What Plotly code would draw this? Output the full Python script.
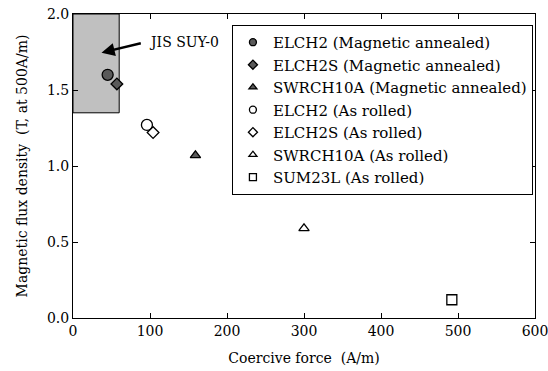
import plotly.graph_objects as go

names = ["ELCH2 (Magnetic annealed)", "ELCH2S (Magnetic annealed)", "SWRCH10A (Magnetic annealed)",
         "ELCH2 (As rolled)", "ELCH2S (As rolled)", "SWRCH10A (As rolled)", "SUM23L (As rolled)"]
coercive = [45, 57, 159, 96, 104, 300, 492]
flux = [1.60, 1.54, 1.07, 1.27, 1.22, 0.59, 0.12]
symbols = ["circle", "diamond", "triangle-up", "circle-open", "diamond-open", "triangle-up-open", "square-open"]
fills = ["#5a5a5a", "#5a5a5a", "#5a5a5a", "white", "white", "white", "white"]
sizes = [11, 9, 9, 11, 9, 9, 10]

jis_x = [0, 60]
jis_y = [1.35, 2.0]

FONT = "DejaVu Serif"
fig = go.Figure()

for n, x, y, s, f, sz in zip(names, coercive, flux, symbols, fills, sizes):
    sym = s.replace("-open", "")
    fig.add_trace(go.Scatter(x=[x], y=[y], mode="markers", showlegend=False,
                             marker=dict(symbol=sym, size=sz, color=f, line=dict(color="black", width=1.3))))
for n, s, f in zip(names, symbols, fills):
    sym = s.replace("-open", "")
    fig.add_trace(go.Scatter(x=[None], y=[None], mode="markers", name=n,
                             marker=dict(symbol=sym, size=7, color=f, line=dict(color="black", width=1.3))))

fig.add_shape(type="rect", x0=jis_x[0], x1=jis_x[1], y0=jis_y[0], y1=jis_y[1],
              fillcolor="#c0c0c0", line=dict(color="black", width=1), layer="below")

fig.add_annotation(x=37, y=1.745, ax=90, ay=1.81, axref="x", ayref="y", xref="x", yref="y",
                   text="", showarrow=True, arrowhead=2, arrowsize=1.1, arrowwidth=2.4, arrowcolor="black")
fig.add_annotation(x=96, y=1.815, xref="x", yref="y", text="JIS SUY-0", showarrow=False,
                   xanchor="left", yanchor="middle", font=dict(family=FONT, size=14, color="black"))

axis_common = dict(showline=True, linecolor="black", linewidth=1, mirror="ticks", ticks="inside",
                   ticklen=5, tickcolor="black", showgrid=False, zeroline=False, automargin=False,
                   ticklabeloverflow="allow",
                   tickfont=dict(family=FONT, size=14, color="black"))

fig.update_layout(
    width=548, height=371,
    margin=dict(l=73, r=13, t=14, b=53),
    paper_bgcolor="white", plot_bgcolor="white",
    xaxis=dict(range=[0, 600], dtick=100, title=dict(text="Coercive force  (A/m)", standoff=15,
               font=dict(family=FONT, size=14, color="black")), **axis_common),
    yaxis=dict(range=[0, 2.0], dtick=0.5, tickformat=".1f",
               title=dict(text="Magnetic flux density  (T, at 500A/m)", standoff=16,
                          font=dict(family=FONT, size=14, color="black")), **axis_common),
    legend=dict(x=0.344, y=0.964, xanchor="left", yanchor="top", bgcolor="white",
                bordercolor="black", borderwidth=1, font=dict(family=FONT, size=15, color="black"),
                tracegroupgap=0, itemwidth=30),
    showlegend=True,
)

fig.write_html("out.html", config={"displayModeBar": False},
               post_script="document.body.style.margin='0';document.body.style.overflow='hidden';")
